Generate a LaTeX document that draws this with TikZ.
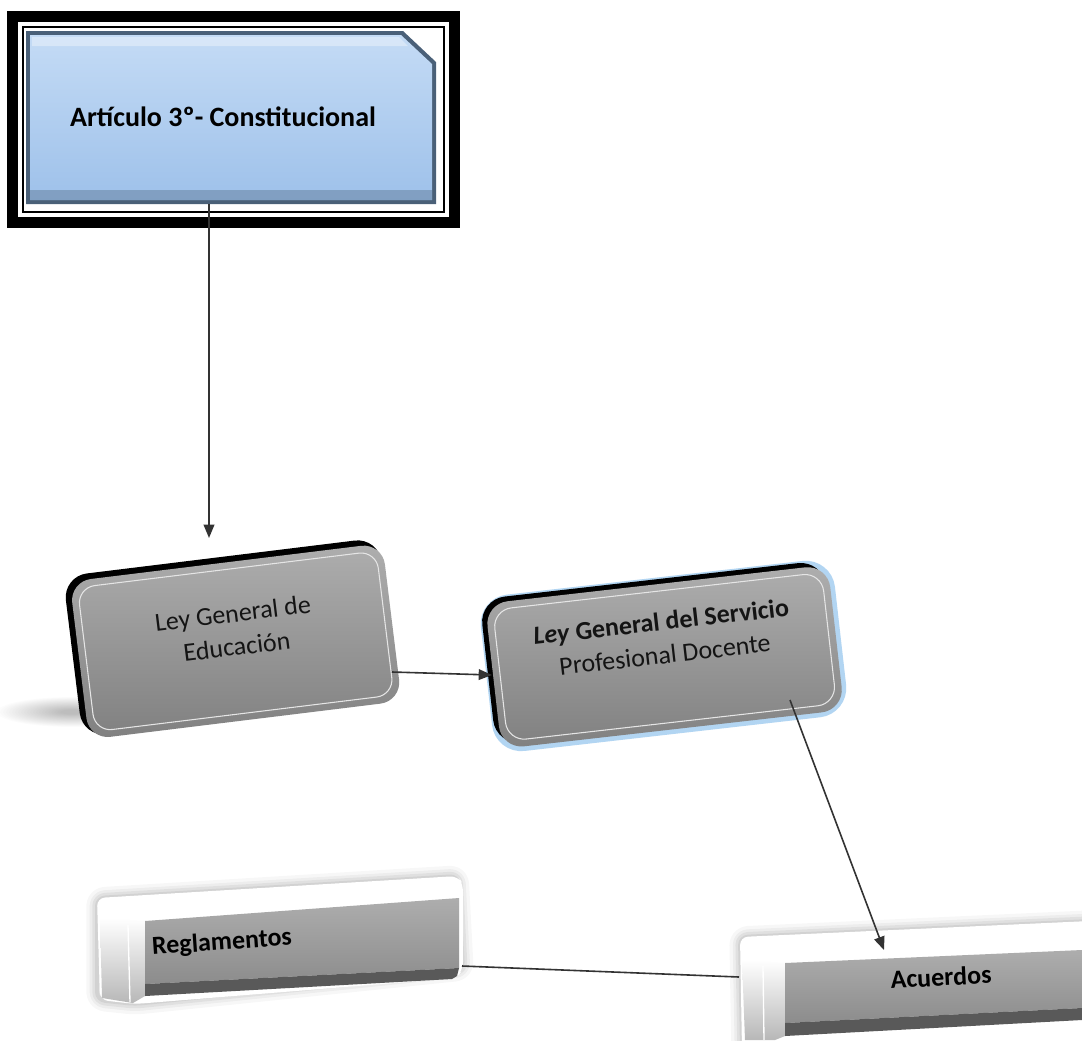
\documentclass[tikz,border=0pt]{standalone}
\usepackage{fontspec}
\setmainfont{Carlito}
\usetikzlibrary{arrows.meta}
\definecolor{bluetop}{HTML}{C4DBF5}
\definecolor{bluebot}{HTML}{9EC1EA}
\definecolor{blueedge}{HTML}{4A6078}
\definecolor{graytop}{HTML}{AEAEAE}
\definecolor{graybot}{HTML}{808080}
\definecolor{conncol}{HTML}{333333}
\definecolor{glow}{HTML}{9FCBEF}
\tikzset{
  conn/.style={draw=conncol, line width=1.2pt},
  arrowconn/.style={conn, -{Triangle[length=10pt,width=8pt]}},
  lbl/.style={font=\fontsize{19.5}{25}\selectfont, align=center, text=black!92},
  blbl/.style={font=\bfseries\fontsize{19.5}{25}\selectfont, align=center, text=black},
}
\begin{document}
\begin{tikzpicture}[x=0.75pt,y=-0.75pt]
\useasboundingbox (0,0) rectangle (1082,1040);
\fill[white] (0,0) rectangle (1082,1040);

% ---------- Top box ----------
\fill[black] (7,11) rectangle (460,228);
\fill[white] (18,22) rectangle (449,217);
\draw[black, line width=1.5pt] (23,27) rectangle (444,212);
\fill[blueedge] (26,31) -- (403,31) -- (436,62) -- (436,204) -- (26,204) -- cycle;
\shade[top color=bluetop, bottom color=bluebot] (30,35) -- (401,35) -- (432,64) -- (432,200) -- (30,200) -- cycle;
\fill[white, opacity=0.35] (32,37) -- (399,37) -- (408,46) -- (32,46) -- cycle;
\fill[blueedge, opacity=0.35] (30,190) -- (432,190) -- (432,200) -- (30,200) -- cycle;
\node[font=\bfseries\fontsize{21}{25}\selectfont, text=black] (art) at (223,117) {Artículo 3º- Constitucional};

% ---------- Ley General de Educación ----------
\foreach \r in {75,72,...,12}
  \fill[black, opacity=0.012] (72,712) ellipse [x radius=\r, y radius=\r*0.2];
\begin{scope}[shift={(234,640)}, rotate=7]
  \fill[black, rounded corners=18pt] (-162,-84) rectangle (156,78);
  \shade[top color=graytop, bottom color=graybot, rounded corners=16pt] (-156,-78) rectangle (159,81);
  \draw[white!80!gray, line width=0.8pt, rounded corners=13pt] (-149,-71) rectangle (152,74);
  \node[lbl, rotate=7] (lge) at (2,-10) {Ley General de\\Educación};
\end{scope}

% ---------- Ley General del Servicio ----------
\begin{scope}[shift={(663,656)}, rotate=6.5]
  \draw[glow, line width=4pt, rounded corners=20pt, opacity=0.8] (-175,-76) rectangle (176,76);
  \fill[black, rounded corners=19pt] (-176,-77) rectangle (170,70);
  \shade[top color=graytop, bottom color=graybot, rounded corners=17pt] (-171,-72) rectangle (174,74);
  \draw[white!80!gray, line width=0.8pt, rounded corners=14pt] (-164,-65) rectangle (167,67);
  \node[lbl, rotate=6.5] (lgs) at (2,-18) {\textbf{\textit{Ley}} \textbf{General del Servicio}\\Profesional Docente};
\end{scope}

% ---------- Reglamentos ----------
\foreach \w/\o in {16/0.03,11/0.04,7/0.05,3/0.06}
  \draw[black, opacity=\o, line width=\w pt, rounded corners=6pt, line join=round]
    (97,898) -- (458,876) -- (463,970) -- (135,1004) -- (97,1000) -- cycle;
\fill[white, rounded corners=6pt] (97,898) -- (458,876) -- (463,884) -- (463,970) -- (456,978) -- (135,1004) -- (100,1000) -- cycle;
\shade[top color=white, bottom color=black!28] (100,918) -- (145,921) -- (145,996) -- (133,1003) -- (102,998) -- cycle;
\draw[white, line width=1pt] (128,925) -- (130,1002);
\shade[top color=black!32, bottom color=black!45] (145,921) -- (459,898) -- (459,968) -- (145,984) -- cycle;
\fill[black!65] (145,984) -- (459,968) -- (457,976) -- (452,979) -- (145,996) -- cycle;
\node[blbl, rotate=4] (reg) at (222,943) {Reglamentos};

% ---------- Acuerdos ----------
\foreach \w/\o in {16/0.03,11/0.04,7/0.05,3/0.06}
  \draw[black, opacity=\o, line width=\w pt, rounded corners=6pt, line join=round]
    (740,937) -- (1090,921) -- (1090,1050) -- (742,1050) -- cycle;
\fill[white, rounded corners=6pt] (740,937) -- (1090,921) -- (1090,1050) -- (742,1050) -- cycle;
\shade[top color=white, bottom color=black!28] (742,960) -- (785,963) -- (785,1036) -- (775,1040) -- (745,1040) -- cycle;
\draw[white, line width=1pt] (763,966) -- (764,1040);
\shade[top color=black!32, bottom color=black!45] (785,963) -- (1082,950) -- (1082,1008) -- (785,1023) -- cycle;
\fill[black!65] (785,1023) -- (1082,1008) -- (1082,1020) -- (785,1036) -- cycle;
\node[blbl, rotate=3] (acu) at (941,977) {Acuerdos};

% ---------- Connectors ----------
\coordinate (c1s) at (209,204);
\coordinate (c1e) at (209,538);
\coordinate (c2s) at (392,672);
\coordinate (c2e) at (492,675);
\coordinate (c3s) at (790,700);
\coordinate (c3e) at (884,950);
\coordinate (c4s) at (462,966);
\coordinate (c4e) at (739,977);
\draw[arrowconn] (c1s) -- (c1e);
\draw[arrowconn] (c2s) -- (c2e);
\draw[arrowconn] (c3s) -- (c3e);
\draw[conn] (c4s) -- (c4e);
\end{tikzpicture}
\end{document}
